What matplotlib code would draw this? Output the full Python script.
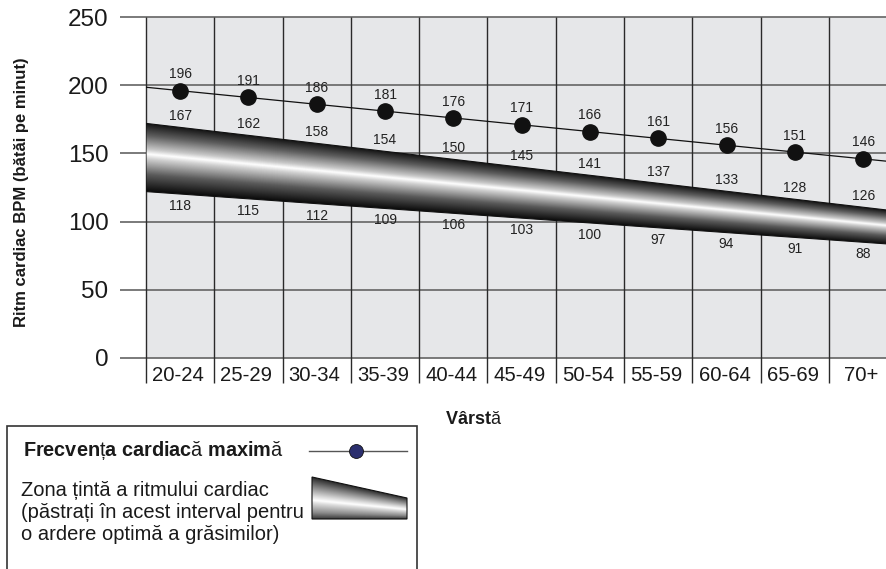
import numpy as np
import matplotlib
matplotlib.use("Agg")
import matplotlib.pyplot as plt
from matplotlib.colors import LinearSegmentedColormap
from matplotlib.patches import Polygon, Rectangle

plt.rcParams["font.family"] = ["Liberation Sans", "DejaVu Sans"]
plt.rcParams["mathtext.fontset"] = "custom"
plt.rcParams["mathtext.rm"] = "Liberation Sans"
plt.rcParams["mathtext.bf"] = "Liberation Sans:bold"

# === Date ===
grupe_varsta = ["20-24", "25-29", "30-34", "35-39", "40-44", "45-49",
                "50-54", "55-59", "60-64", "65-69", "70+"]
frecventa_max = [196, 191, 186, 181, 176, 171, 166, 161, 156, 151, 146]
zona_sus = [167, 162, 158, 154, 150, 145, 141, 137, 133, 128, 126]
zona_jos = [118, 115, 112, 109, 106, 103, 100, 97, 94, 91, 88]

# banda desenata (schematic), capete la marginile axei x
banda_x = [0, 11]
banda_sus = [172, 107.6]
banda_jos = [122, 83.1]

y_ticks = [0, 50, 100, 150, 200, 250]

W, H = 887, 569
BG = "#e6e7e9"

# gradient metalic: 0 = marginea de sus, 1 = marginea de jos
cmap_banda = LinearSegmentedColormap.from_list("metal", [
    (0.00, "#141414"), (0.18, "#5e5e5e"), (0.38, "#c8c8c8"),
    (0.45, "#ffffff"), (0.52, "#d0d0d0"), (0.75, "#5a5a5a"),
    (1.00, "#0a0a0a")])
cmap_legenda = LinearSegmentedColormap.from_list("metal_l", [
    (0.00, "#2a2a2a"), (0.20, "#7a7a7a"), (0.45, "#dcdcdc"),
    (0.55, "#ffffff"), (0.62, "#dedede"), (0.85, "#8a8a8a"),
    (1.00, "#3a3a3a")])


def umbreste(ax, xs, sus, jos, cmap=cmap_banda, nx=700, ny=500):
    xs = np.asarray(xs, float)
    sus = np.asarray(sus, float)
    jos = np.asarray(jos, float)
    gx = np.linspace(xs.min(), xs.max(), nx)
    lo = min(sus.min(), jos.min())
    hi = max(sus.max(), jos.max())
    gy = np.linspace(lo, hi, ny)
    X, Y = np.meshgrid(gx, gy)
    s = np.interp(X, xs, sus)
    j = np.interp(X, xs, jos)
    T = np.clip((Y - s) / (j - s), 0, 1)
    im = ax.imshow(T, extent=[gx[0], gx[-1], gy[0], gy[-1]], origin="lower",
                   cmap=cmap, vmin=0, vmax=1, aspect="auto",
                   interpolation="bilinear", zorder=3)
    poly = Polygon([(xs[0], sus[0]), (xs[-1], sus[-1]),
                    (xs[-1], jos[-1]), (xs[0], jos[0])], closed=True,
                   facecolor="none", edgecolor="#111111", lw=0.8, zorder=4)
    ax.add_patch(poly)
    im.set_clip_path(poly)
    return im


fig = plt.figure(figsize=(W / 100, H / 100), dpi=100)

# === Grafic principal ===
ax_l, ax_r, ax_t, ax_b = 146, 146 + 11 * 68.3, 17, 358
ax = fig.add_axes([ax_l / W, 1 - ax_b / H, (ax_r - ax_l) / W, (ax_b - ax_t) / H])
ax.set_facecolor(BG)
ax.set_xlim(0, 11)
ax.set_ylim(0, 250)
for s in ax.spines.values():
    s.set_visible(False)

# linii orizontale (ies putin in stanga)
ax.hlines(y_ticks, -0.38, 11, colors="#6f6f6f", lw=1.3, clip_on=False, zorder=2)
# linii verticale (coboara sub axa)
ax.vlines(range(12), -18, 250, colors="#2a2a2a", lw=1.0, clip_on=False, zorder=2)

x = np.arange(len(grupe_varsta)) + 0.5
umbreste(ax, banda_x, banda_sus, banda_jos)

# frecventa maxima
ax.axline((x[0], frecventa_max[0]), (x[-1], frecventa_max[-1]),
          color="#111111", lw=0.9, zorder=5)
ax.plot(x, frecventa_max, "o", color="#111111", ms=11, zorder=6)

top_c = np.interp(x, banda_x, banda_sus)
bot_c = np.interp(x, banda_x, banda_jos)
for xi, v in zip(x, frecventa_max):
    ax.text(xi, v + 12, str(v), ha="center", va="center", fontsize=10,
            color="#222222", zorder=7)
for xi, yt, v in zip(x, top_c, zona_sus):
    ax.text(xi, yt + 8.5, str(v), ha="center", va="center", fontsize=10,
            color="#222222", zorder=7)
for xi, yb, v in zip(x, bot_c, zona_jos):
    ax.text(xi, yb - 8.7, str(v), ha="center", va="center", fontsize=10,
            color="#222222", zorder=7)

ax.set_yticks(y_ticks)
ax.set_yticklabels([str(t) for t in y_ticks], fontsize=17.5, color="#1a1a1a")
ax.tick_params(axis="y", length=0, pad=27)
ax.set_xticks([])
for xi, g in zip(x, grupe_varsta):
    ax.text(xi - 0.03, -13, g, ha="center", va="center", fontsize=14.6,
            color="#1a1a1a", clip_on=False)

fig.text(22 / W, 1 - 192 / H, "Ritm cardiac BPM (bătăi pe minut)", rotation=90,
         ha="center", va="center", fontsize=12, fontweight="bold", color="#1a1a1a")

# literele cu diacritice apar ne-ingrosate, ca in original
fig.text(474 / W, 1 - 424 / H, r"Vârst$\mathrm{ă}$", ha="center", va="baseline",
         fontsize=13, fontweight="bold", color="#1a1a1a")

# === Legenda (coordonate in pixeli) ===
lg = fig.add_axes([0, 0, 1, 1], facecolor="none")
lg.set_xlim(0, W)
lg.set_ylim(H, 0)
lg.axis("off")
lg.add_patch(Rectangle((7, 426), 410, 160, facecolor="white", edgecolor="#333333",
                       lw=1.2, zorder=1))
fig.text(23 / W, 1 - 456 / H, r"Frecven$\mathrm{ț}$a cardiac$\mathrm{ă}$ maxim$\mathrm{ă}$",
         ha="left", va="baseline", fontsize=14.3, fontweight="bold", color="#1a1a1a")
lg.plot([309, 407], [451, 451], color="#555555", lw=1.0, zorder=2)
lg.plot([356], [451], "o", ms=10, color="#2b2f6e", mec="#111111", mew=0.6, zorder=3)
for i, linie in enumerate(["Zona țintă a ritmului cardiac",
                           "(păstrați în acest interval pentru",
                           "o ardere optimă a grăsimilor)"]):
    fig.text(21 / W, 1 - (490 + i * 22.5) / H, linie, fontsize=14.5,
             va="center", ha="left", color="#1a1a1a")
umbreste(lg, [312, 407], [477, 498], [519, 519], cmap=cmap_legenda, nx=200, ny=120)

fig.savefig("out.png", dpi=100)
